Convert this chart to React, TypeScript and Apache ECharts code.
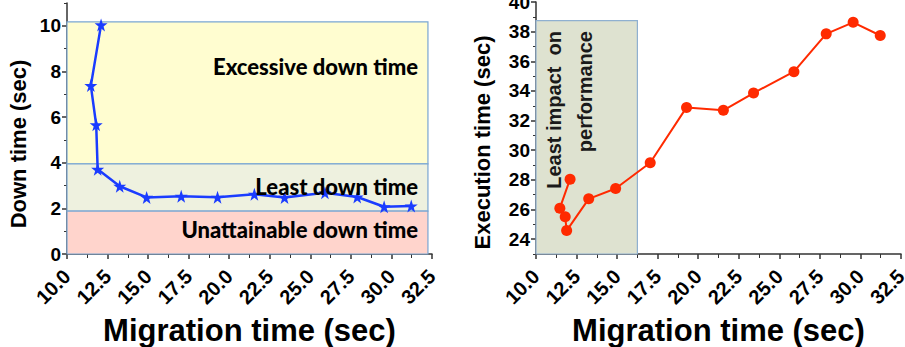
import React, { useEffect, useRef } from "react";
import * as echarts from "echarts";

// Shared migration-time values (sec)
const migrationTime = [12.1, 11.47, 11.8, 11.89, 13.25, 14.91, 17.04, 19.28, 21.55, 23.41, 25.9, 27.89, 29.55, 31.22];
// Left chart: down time (sec)
const downTime = [10.04, 7.38, 5.66, 3.71, 2.97, 2.48, 2.53, 2.49, 2.62, 2.48, 2.68, 2.5, 2.07, 2.1];
// Right chart: execution time (sec)
const executionTime = [28.05, 26.09, 25.51, 24.58, 26.72, 27.42, 29.16, 32.89, 32.69, 33.86, 35.3, 37.85, 38.63, 37.74];

// Tick values
const downTickLabels = [0, 2, 4, 6, 8, 10];
const downMinorTicks = [1, 3, 5, 7, 9, 11];
const execTickLabels = [24, 26, 28, 30, 32, 34, 36, 38, 40];
const execMinorTicks = [23, 25, 27, 29, 31, 33, 35, 37, 39];

// Background regions (data space): [x0, x1, y0, y1]
const downRegionYellow = [10, 32.25, 3.95, 10.17];
const downRegionGreen = [10, 32.25, 1.88, 3.95];
const downRegionPink = [10, 32.25, 0, 1.88];
const execRegion = [10, 16.25, 23, 38.75];

const FONT = "'Liberation Sans', Arial, sans-serif";

export default function App() {
  const ref = useRef<HTMLDivElement>(null);
  useEffect(() => {
    if (!ref.current) return;
    const chart = echarts.init(ref.current, null, { renderer: "svg" });
    const xAxisBase = (gridIndex: number) => ({
      type: "value",
      gridIndex,
      min: 10,
      max: 32.5,
      interval: 2.5,
      name: "Migration time (sec)",
      nameLocation: "middle",
      nameGap: 52,
      nameTextStyle: { fontFamily: FONT, fontWeight: "bold", fontSize: 31, color: "#000" },
      axisLine: { show: true, lineStyle: { color: "#333", width: 1.5 } },
      axisTick: { show: true, length: 5, lineStyle: { color: "#333", width: 1.5 } },
      minorTick: { show: true, splitNumber: 2, length: 4, lineStyle: { color: "#333", width: 1 } },
      splitLine: { show: false },
      axisLabel: {
        rotate: 45,
        margin: 19,
        fontFamily: FONT,
        fontWeight: "bold",
        fontSize: 20,
        color: "#000",
        formatter: (v: number) => v.toFixed(1),
      },
    });
    const band = (r: number[], color: string, border: string) => [
      { xAxis: r[0], yAxis: r[3], itemStyle: { color, borderColor: border, borderWidth: 1.2 } },
      { xAxis: r[1], yAxis: r[2] },
    ];
    const minorY = (gridIndex: number, min: number, max: number, ticks: number[]) => ({
      type: "value",
      gridIndex,
      position: "left",
      offset: 0,
      min,
      max,
      axisLine: { show: false },
      axisTick: { show: true, length: 3, customValues: ticks, lineStyle: { color: "#333", width: 1 } },
      axisLabel: { show: false },
      splitLine: { show: false },
    });
    const option: any = {
      animation: false,
      grid: [
        { left: 67, top: 3, width: 365, height: 251, containLabel: false, outerBoundsMode: "none" },
        { left: 536, top: 2, width: 365, height: 252, containLabel: false, outerBoundsMode: "none" },
      ],
      xAxis: [xAxisBase(0), xAxisBase(1)],
      yAxis: [
        {
          type: "value",
          gridIndex: 0,
          position: "left",
          min: 0,
          max: 11,
          name: "Down time (sec)",
          nameLocation: "middle",
          nameGap: 38,
          nameTextStyle: { fontFamily: FONT, fontWeight: "bold", fontSize: 22, color: "#000", padding: [0, 31, 0, 0] },
          axisLine: { show: true, lineStyle: { color: "#333", width: 1.5 } },
          axisTick: { show: true, length: 5, customValues: downTickLabels, lineStyle: { color: "#333", width: 1.5 } },
          axisLabel: { customValues: downTickLabels, margin: 6, fontFamily: FONT, fontWeight: "bold", fontSize: 19, color: "#000" },
          splitLine: { show: false },
        },
        minorY(0, 0, 11, downMinorTicks),
        {
          type: "value",
          gridIndex: 1,
          position: "left",
          min: 23,
          max: 40,
          name: "Execution time (sec)",
          nameLocation: "middle",
          nameGap: 43,
          nameTextStyle: { fontFamily: FONT, fontWeight: "bold", fontSize: 22, color: "#000", padding: [0, 29, 0, 0] },
          axisLine: { show: true, lineStyle: { color: "#333", width: 1.5 } },
          axisTick: { show: true, length: 5, customValues: execTickLabels, lineStyle: { color: "#333", width: 1.5 } },
          axisLabel: { customValues: execTickLabels, margin: 6, fontFamily: FONT, fontWeight: "bold", fontSize: 19, color: "#000" },
          splitLine: { show: false },
        },
        minorY(1, 23, 40, execMinorTicks),
      ],
      series: [
        {
          type: "line",
          xAxisIndex: 0,
          yAxisIndex: 0,
          data: migrationTime.map((x, i) => [x, downTime[i]]),
          symbol: "path://M50,0 L61.8,35.1 L98.9,35.1 L68.9,57.1 L79.4,92.3 L50,70.9 L20.6,92.3 L31.1,57.1 L1.1,35.1 L38.2,35.1 Z",
          symbolSize: 13,
          lineStyle: { color: "#1a3cff", width: 2.5 },
          itemStyle: { color: "#1a3cff" },
          z: 5,
          markArea: {
            silent: true,
            data: [
              band(downRegionYellow, "#fffdd0", "#7aa6d2"),
              band(downRegionGreen, "#eef1df", "#7aa6d2"),
              band(downRegionPink, "#ffd4cc", "#7aa6d2"),
            ],
          },
        },
        {
          type: "line",
          xAxisIndex: 1,
          yAxisIndex: 2,
          data: migrationTime.map((x, i) => [x, executionTime[i]]),
          symbol: "circle",
          symbolSize: 11,
          lineStyle: { color: "#ff2a00", width: 2 },
          itemStyle: { color: "#ff2a00" },
          z: 5,
          markArea: {
            silent: true,
            data: [band(execRegion, "#dee2d0", "#8fb0d0")],
          },
        },
      ],
      graphic: [
        {
          type: "text",
          x: 418,
          y: 66,
          z: 10,
          style: { text: "Excessive down time", font: "900 22px Lato, sans-serif", fill: "#000", align: "right", verticalAlign: "middle" },
        },
        {
          type: "text",
          x: 418,
          y: 186,
          z: 10,
          style: { text: "Least down time", font: "900 22px Lato, sans-serif", fill: "#000", align: "right", verticalAlign: "middle" },
        },
        {
          type: "text",
          x: 418,
          y: 229,
          z: 10,
          style: { text: "Unattainable down time", font: "900 22px Lato, sans-serif", fill: "#000", align: "right", verticalAlign: "middle" },
        },
        {
          type: "text",
          x: 554,
          y: 31,
          rotation: Math.PI / 2,
          z: 10,
          style: { text: "Least impact  on", font: "bold 20px 'Liberation Sans', Arial, sans-serif", fill: "#1a1a1a", align: "right", verticalAlign: "middle" },
        },
        {
          type: "text",
          x: 585,
          y: 31,
          rotation: Math.PI / 2,
          z: 10,
          style: { text: "performance", font: "bold 20px 'Liberation Sans', Arial, sans-serif", fill: "#1a1a1a", align: "right", verticalAlign: "middle" },
        },
      ],
    };
    chart.setOption(option);
    return () => chart.dispose();
  }, []);
  return (
    <div
      ref={ref}
      style={{ position: "fixed", left: 0, top: 0, width: 905, height: 347, background: "#fff" }}
    />
  );
}
